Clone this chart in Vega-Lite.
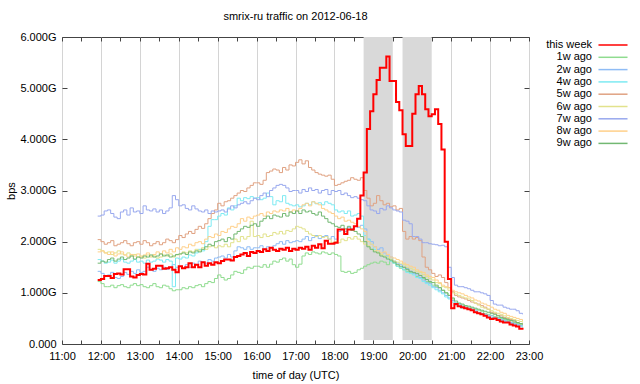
{
  "$schema": "https://vega.github.io/schema/vega-lite/v6.json",
  "width": 467,
  "height": 307,
  "autosize": {"type": "none"},
  "padding": {"left": 62, "top": 37, "right": 111, "bottom": 40},
  "background": "white",
  "title": {"text": "smrix-ru traffic on 2012-06-18", "font": "Liberation Sans", "fontSize": 11, "fontWeight": "normal", "color": "#000", "offset": 9, "anchor": "middle"},
  "config": {
    "view": {"stroke": "#444", "strokeWidth": 1},
    "axis": {"labelFont": "Liberation Sans", "labelFontSize": 11, "labelColor": "#000", "titleFont": "Liberation Sans", "titleFontSize": 11, "titleFontWeight": "normal", "titleColor": "#000", "domain": false, "tickColor": "#444", "gridColor": "#d4d4d4", "gridWidth": 1, "labelOverlap": false, "labelFlush": false},
    "legend": {"labelFont": "Liberation Sans", "labelFontSize": 11, "labelColor": "#000", "padding": 0}
  },
  "datasets": {
    "bands": [{"a": 1125, "b": 1170}, {"a": 1185, "b": 1230}],
    "traffic": [
      {"s": "this week", "m": [715,720,725,730,735,740,745,750,755,760,765,770,775,780,785,790,795,800,805,810,815,820,825,830,835,840,845,850,855,860,865,870,875,880,885,890,895,900,905,910,915,920,925,930,935,940,945,950,955,960,965,970,975,980,985,990,995,1000,1005,1010,1015,1020,1025,1030,1035,1040,1045,1050,1055,1060,1065,1070,1075,1080,1085,1090,1095,1100,1105,1110,1115,1120,1125,1130,1135,1140,1145,1150,1155,1160,1165,1170,1175,1180,1185,1190,1195,1200,1205,1210,1215,1220,1225,1230,1235,1240,1245,1250,1255,1260,1265,1270,1275,1280,1285,1290,1295,1300,1305,1310,1315,1320,1325,1330,1335,1340,1345,1350,1355,1360,1365,1370],
       "v": [1.25,1.27,1.33,1.33,1.29,1.37,1.38,1.36,1.46,1.46,1.32,1.3,1.35,1.37,1.36,1.57,1.45,1.47,1.53,1.53,1.47,1.48,1.5,1.45,1.4,1.52,1.48,1.5,1.58,1.5,1.55,1.5,1.6,1.53,1.58,1.55,1.6,1.58,1.62,1.65,1.65,1.63,1.7,1.72,1.75,1.78,1.72,1.8,1.78,1.82,1.8,1.85,1.82,1.88,1.84,1.82,1.86,1.84,1.88,1.82,1.86,1.84,1.88,1.86,1.9,1.84,1.92,1.88,1.95,1.87,2.02,1.96,1.96,1.98,2.24,2.24,2.15,2.24,2.24,2.3,2.45,2.9,3.35,4.2,4.55,4.88,5.16,5.4,5.4,5.62,5.14,5.14,4.73,4.57,4.1,3.87,3.87,4.5,4.88,5.04,4.88,4.59,4.45,4.49,4.59,4.3,3.8,2.0,1.27,0.7,0.78,0.74,0.72,0.7,0.68,0.66,0.62,0.6,0.58,0.55,0.52,0.49,0.5,0.47,0.44,0.42,0.42,0.38,0.36,0.34,0.3,0.28]},
      {"s": "1w ago", "m": [715,720,725,730,735,740,745,750,755,760,765,770,775,780,785,790,795,800,805,810,815,820,825,830,835,840,845,850,855,860,865,870,875,880,885,890,895,900,905,910,915,920,925,930,935,940,945,950,955,960,965,970,975,980,985,990,995,1000,1005,1010,1015,1020,1025,1030,1035,1040,1045,1050,1055,1060,1065,1070,1075,1080,1085,1090,1095,1100,1105,1110,1115,1120,1125,1130,1135,1140,1145,1150,1155,1160,1165,1170,1175,1180,1185,1190,1195,1200,1205,1210,1215,1220,1225,1230,1235,1240,1245,1250,1255,1260,1265,1270,1275,1280,1285,1290,1295,1300,1305,1310,1315,1320,1325,1330,1335,1340,1345,1350,1355,1360,1365,1370],
       "v": [1.22,1.18,1.12,1.12,1.15,1.1,1.14,1.16,1.12,1.1,1.15,1.18,1.14,1.16,1.12,1.1,1.14,1.18,1.12,1.1,1.15,1.13,1.08,1.04,1.06,1.06,1.1,1.08,1.12,1.1,1.14,1.16,1.12,1.18,1.22,1.2,1.28,1.35,1.3,1.25,1.28,1.35,1.42,1.4,1.38,1.45,1.5,1.48,1.52,1.52,1.5,1.55,1.5,1.56,1.62,1.6,1.65,1.68,1.62,1.66,1.55,1.5,1.56,1.72,1.78,1.75,1.8,1.78,1.76,1.8,1.78,1.75,1.78,1.75,1.72,1.42,1.4,1.42,1.38,1.4,1.45,1.48,1.52,1.55,1.58,1.6,1.58,1.62,1.6,1.55,1.62,1.58,1.52,1.48,1.45,1.42,1.4,1.38,1.32,1.3,1.28,1.22,1.2,1.15,1.12,1.1,1.05,1.0,0.95,0.88,0.8,0.78,0.76,0.74,0.72,0.7,0.68,0.66,0.64,0.6,0.58,0.56,0.54,0.52,0.5,0.48,0.46,0.45,0.42,0.4,0.38,0.36]},
      {"s": "2w ago", "m": [715,720,725,730,735,740,745,750,755,760,765,770,775,780,785,790,795,800,805,810,815,820,825,830,835,840,845,850,855,860,865,870,875,880,885,890,895,900,905,910,915,920,925,930,935,940,945,950,955,960,965,970,975,980,985,990,995,1000,1005,1010,1015,1020,1025,1030,1035,1040,1045,1050,1055,1060,1065,1070,1075,1080,1085,1090,1095,1100,1105,1110,1115,1120,1125,1130,1135,1140,1145,1150,1155,1160,1165,1170,1175,1180,1185,1190,1195,1200,1205,1210,1215,1220,1225,1230,1235,1240,1245,1250,1255,1260,1265,1270,1275,1280,1285,1290,1295,1300,1305,1310,1315,1320,1325,1330,1335,1340,1345,1350,1355,1360,1365,1370],
       "v": [1.42,1.38,1.32,1.35,1.4,1.3,1.28,1.32,1.4,1.36,1.42,1.38,1.45,1.4,1.42,1.5,1.45,1.42,1.48,1.45,1.5,1.46,1.5,1.55,1.5,1.52,1.48,1.55,1.5,1.58,1.55,1.62,1.6,1.58,1.65,1.62,1.68,1.7,1.72,1.68,1.75,1.7,1.82,1.9,1.88,1.85,1.9,1.85,1.88,1.88,1.92,1.86,1.9,1.88,1.92,1.96,2.0,1.95,2.02,1.98,2.0,2.02,2.0,2.05,2.1,2.02,2.08,2.12,2.06,2.1,2.12,2.05,2.1,2.05,2.2,2.25,2.2,2.28,2.25,2.3,2.28,2.32,2.25,2.05,2.0,1.9,1.85,1.88,1.78,1.72,1.7,1.62,1.58,1.55,1.5,1.48,1.42,1.38,1.35,1.3,1.25,1.2,1.18,1.12,1.1,1.05,1.0,0.95,0.9,0.85,0.8,0.78,0.74,0.72,0.7,0.68,0.66,0.62,0.6,0.58,0.56,0.55,0.52,0.5,0.48,0.46,0.44,0.42,0.4,0.38,0.36,0.34]},
      {"s": "4w ago", "m": [715,720,725,730,735,740,745,750,755,760,765,770,775,780,785,790,795,800,805,810,815,820,825,830,835,840,845,850,855,860,865,870,875,880,885,890,895,900,905,910,915,920,925,930,935,940,945,950,955,960,965,970,975,980,985,990,995,1000,1005,1010,1015,1020,1025,1030,1035,1040,1045,1050,1055,1060,1065,1070,1075,1080,1085,1090,1095,1100,1105,1110,1115,1120,1125,1130,1135,1140,1145,1150,1155,1160,1165,1170,1175,1180,1185,1190,1195,1200,1205,1210,1215,1220,1225,1230,1235,1240,1245,1250,1255,1260,1265,1270,1275,1280,1285,1290,1295,1300,1305,1310,1315,1320,1325,1330,1335,1340,1345,1350,1355,1360,1365,1370],
       "v": [1.65,1.62,1.58,1.6,1.64,1.58,1.62,1.66,1.6,1.58,1.62,1.65,1.6,1.62,1.58,1.64,1.6,1.62,1.66,1.64,1.6,1.65,1.62,1.12,1.68,1.66,1.7,1.68,1.74,1.72,1.78,1.85,1.82,2.0,2.3,2.43,2.43,2.5,2.55,2.52,2.66,2.62,2.7,2.85,2.8,2.86,2.84,2.88,2.85,2.86,2.82,2.85,2.95,2.88,2.72,2.8,2.78,2.9,2.75,2.72,2.7,2.72,2.68,2.7,2.75,2.72,2.78,2.74,2.76,2.72,2.78,2.75,2.72,2.62,2.58,2.6,2.55,2.6,2.5,2.52,2.55,2.5,2.12,2.05,1.95,1.85,1.8,1.75,1.72,1.68,1.62,1.58,1.52,1.5,1.45,1.4,1.38,1.35,1.3,1.28,1.22,1.18,1.15,1.1,1.06,1.02,0.98,0.92,0.88,0.82,0.76,0.74,0.7,0.7,0.68,0.66,0.64,0.6,0.58,0.56,0.54,0.52,0.5,0.48,0.46,0.44,0.42,0.4,0.38,0.36,0.34,0.32]},
      {"s": "5w ago", "m": [715,720,725,730,735,740,745,750,755,760,765,770,775,780,785,790,795,800,805,810,815,820,825,830,835,840,845,850,855,860,865,870,875,880,885,890,895,900,905,910,915,920,925,930,935,940,945,950,955,960,965,970,975,980,985,990,995,1000,1005,1010,1015,1020,1025,1030,1035,1040,1045,1050,1055,1060,1065,1070,1075,1080,1085,1090,1095,1100,1105,1110,1115,1120,1125,1130,1135,1140,1145,1150,1155,1160,1165,1170,1175,1180,1185,1190,1195,1200,1205,1210,1215,1220,1225,1230,1235,1240,1245,1250,1255,1260,1265,1270,1275,1280,1285,1290,1295,1300,1305,1310,1315,1320,1325,1330,1335,1340,1345,1350,1355,1360,1365,1370],
       "v": [2.04,2.0,1.95,1.98,2.02,1.92,1.95,1.98,2.02,1.96,1.92,1.98,2.0,1.95,2.02,1.98,1.92,1.96,2.0,1.94,1.98,2.05,2.02,1.98,2.04,2.12,2.08,2.15,2.2,2.16,2.24,2.3,2.26,2.35,2.45,2.55,2.62,2.75,2.7,2.78,2.8,2.85,2.9,2.95,3.0,2.98,3.05,3.1,3.15,3.15,3.12,3.2,3.35,3.38,3.42,3.4,3.35,3.45,3.4,3.5,3.48,3.55,3.6,3.52,3.58,3.45,3.4,3.35,3.32,3.3,3.28,3.3,3.22,3.1,3.12,3.15,3.18,3.2,3.25,3.22,3.2,3.25,3.0,2.85,2.7,2.75,2.9,2.8,2.72,2.75,2.68,2.7,2.62,2.65,2.2,2.05,2.1,2.05,2.08,2.02,1.7,1.5,1.45,1.38,1.32,1.35,1.3,1.2,1.1,1.02,0.95,0.92,0.9,0.88,0.85,0.82,0.8,0.78,0.75,0.72,0.68,0.62,0.6,0.56,0.55,0.52,0.5,0.48,0.45,0.42,0.4,0.38]},
      {"s": "6w ago", "m": [715,720,725,730,735,740,745,750,755,760,765,770,775,780,785,790,795,800,805,810,815,820,825,830,835,840,845,850,855,860,865,870,875,880,885,890,895,900,905,910,915,920,925,930,935,940,945,950,955,960,965,970,975,980,985,990,995,1000,1005,1010,1015,1020,1025,1030,1035,1040,1045,1050,1055,1060,1065,1070,1075,1080,1085,1090,1095,1100,1105,1110,1115,1120,1125,1130,1135,1140,1145,1150,1155,1160,1165,1170,1175,1180,1185,1190,1195,1200,1205,1210,1215,1220,1225,1230,1235,1240,1245,1250,1255,1260,1265,1270,1275,1280,1285,1290,1295,1300,1305,1310,1315,1320,1325,1330,1335,1340,1345,1350,1355,1360,1365,1370],
       "v": [1.85,1.82,1.78,1.8,1.75,1.78,1.82,1.76,1.74,1.78,1.72,1.75,1.7,1.72,1.68,1.74,1.7,1.72,1.68,1.7,1.74,1.72,1.76,1.7,1.74,1.76,1.8,1.78,1.82,1.8,1.85,1.82,1.88,1.85,1.9,1.92,1.88,1.92,1.9,1.95,1.9,1.98,2.05,2.0,2.1,2.05,2.1,2.4,2.1,2.12,2.08,2.15,2.1,2.12,2.18,2.15,2.2,2.15,2.22,2.2,2.25,2.3,2.28,2.25,2.2,2.15,2.12,2.1,2.12,2.08,2.1,2.05,1.98,2.0,1.98,2.05,2.02,2.08,2.05,2.1,2.05,2.0,1.95,1.92,1.85,1.82,1.78,1.75,1.72,1.7,1.66,1.62,1.6,1.58,1.55,1.5,1.48,1.45,1.42,1.4,1.36,1.32,1.28,1.25,1.2,1.18,1.12,1.1,1.05,1.0,0.98,0.95,0.92,0.9,0.88,0.85,0.8,0.76,0.72,0.7,0.68,0.65,0.62,0.6,0.58,0.55,0.52,0.5,0.48,0.46,0.44,0.42]},
      {"s": "7w ago", "m": [715,720,725,730,735,740,745,750,755,760,765,770,775,780,785,790,795,800,805,810,815,820,825,830,835,840,845,850,855,860,865,870,875,880,885,890,895,900,905,910,915,920,925,930,935,940,945,950,955,960,965,970,975,980,985,990,995,1000,1005,1010,1015,1020,1025,1030,1035,1040,1045,1050,1055,1060,1065,1070,1075,1080,1085,1090,1095,1100,1105,1110,1115,1120,1125,1130,1135,1140,1145,1150,1155,1160,1165,1170,1175,1180,1185,1190,1195,1200,1205,1210,1215,1220,1225,1230,1235,1240,1245,1250,1255,1260,1265,1270,1275,1280,1285,1290,1295,1300,1305,1310,1315,1320,1325,1330,1335,1340,1345,1350,1355,1360,1365,1370],
       "v": [2.5,2.52,2.6,2.62,2.55,2.48,2.45,2.58,2.62,2.52,2.66,2.58,2.6,2.55,2.7,2.62,2.6,2.64,2.58,2.62,2.55,2.6,2.66,2.9,2.82,2.7,2.72,2.65,2.62,2.7,2.64,2.6,2.58,2.62,2.55,2.6,2.58,2.6,2.62,2.58,2.64,2.7,2.66,2.72,2.75,2.78,2.74,2.8,2.85,2.82,2.9,2.95,2.88,3.0,3.05,3.1,3.12,3.1,3.05,2.98,3.0,3.0,2.95,3.02,2.98,3.05,3.0,3.02,2.95,3.0,3.02,2.92,3.0,2.98,3.0,2.92,2.95,2.9,2.86,2.88,2.85,2.82,2.8,2.7,2.62,2.6,2.55,2.65,2.62,2.7,2.66,2.62,2.6,2.58,2.42,2.4,2.35,2.1,2.1,2.05,1.98,1.98,1.96,1.95,1.94,1.92,1.93,1.9,1.5,1.3,1.15,1.12,1.12,1.1,1.08,1.05,1.02,1.02,1.0,0.98,0.95,0.85,0.78,0.76,0.76,0.72,0.7,0.68,0.68,0.65,0.6,0.58]},
      {"s": "8w ago", "m": [715,720,725,730,735,740,745,750,755,760,765,770,775,780,785,790,795,800,805,810,815,820,825,830,835,840,845,850,855,860,865,870,875,880,885,890,895,900,905,910,915,920,925,930,935,940,945,950,955,960,965,970,975,980,985,990,995,1000,1005,1010,1015,1020,1025,1030,1035,1040,1045,1050,1055,1060,1065,1070,1075,1080,1085,1090,1095,1100,1105,1110,1115,1120,1125,1130,1135,1140,1145,1150,1155,1160,1165,1170,1175,1180,1185,1190,1195,1200,1205,1210,1215,1220,1225,1230,1235,1240,1245,1250,1255,1260,1265,1270,1275,1280,1285,1290,1295,1300,1305,1310,1315,1320,1325,1330,1335,1340,1345,1350,1355,1360,1365,1370],
       "v": [1.8,1.82,1.78,1.75,1.8,1.72,1.76,1.8,1.74,1.7,1.75,1.72,1.76,1.7,1.74,1.78,1.72,1.75,1.8,1.76,1.82,1.78,1.85,1.8,1.88,1.85,1.9,1.88,1.95,1.92,1.98,2.0,1.96,2.05,2.1,2.08,2.15,2.12,2.2,2.18,2.25,2.3,2.28,2.35,2.45,2.4,2.48,2.45,2.5,2.52,2.55,2.5,2.58,2.55,2.6,2.58,2.62,2.6,2.65,2.58,2.62,2.6,2.65,2.72,2.75,2.7,2.78,2.75,2.72,2.65,2.62,2.58,2.55,2.5,2.45,2.48,2.4,2.42,2.38,2.35,2.3,2.25,2.2,2.0,1.95,1.9,1.82,1.78,1.8,1.75,1.7,1.68,1.65,1.62,1.58,1.55,1.52,1.5,1.45,1.42,1.4,1.35,1.32,1.3,1.25,1.2,1.15,1.12,1.1,1.05,1.02,1.0,0.98,0.95,0.92,0.9,0.86,0.84,0.8,0.78,0.75,0.72,0.68,0.66,0.62,0.6,0.56,0.54,0.52,0.5,0.48,0.45]},
      {"s": "9w ago", "m": [715,720,725,730,735,740,745,750,755,760,765,770,775,780,785,790,795,800,805,810,815,820,825,830,835,840,845,850,855,860,865,870,875,880,885,890,895,900,905,910,915,920,925,930,935,940,945,950,955,960,965,970,975,980,985,990,995,1000,1005,1010,1015,1020,1025,1030,1035,1040,1045,1050,1055,1060,1065,1070,1075,1080,1085,1090,1095,1100,1105,1110,1115,1120,1125,1130,1135,1140,1145,1150,1155,1160,1165,1170,1175,1180,1185,1190,1195,1200,1205,1210,1215,1220,1225,1230,1235,1240,1245,1250,1255,1260,1265,1270,1275,1280,1285,1290,1295,1300,1305,1310,1315,1320,1325,1330,1335,1340,1345,1350,1355,1360,1365,1370],
       "v": [1.58,1.62,1.6,1.65,1.68,1.62,1.66,1.7,1.65,1.68,1.72,1.66,1.7,1.68,1.72,1.7,1.74,1.7,1.72,1.76,1.72,1.74,1.7,1.72,1.75,1.76,1.78,1.75,1.8,1.78,1.82,1.8,1.85,1.9,1.95,1.92,2.0,2.02,2.05,2.0,2.08,2.05,2.15,2.2,2.25,2.3,2.28,2.32,2.35,2.3,2.4,2.45,2.5,2.45,2.52,2.5,2.48,2.55,2.5,2.58,2.55,2.6,2.55,2.62,2.58,2.6,2.55,2.52,2.58,2.5,2.45,2.38,2.35,2.3,2.28,2.32,2.25,2.3,2.22,2.2,2.15,2.1,2.0,1.9,1.85,1.8,1.78,1.72,1.7,1.66,1.64,1.6,1.55,1.52,1.5,1.46,1.42,1.4,1.38,1.34,1.3,1.26,1.22,1.2,1.15,1.1,1.05,1.0,0.95,0.9,0.84,0.8,0.78,0.75,0.74,0.72,0.7,0.68,0.66,0.64,0.62,0.6,0.58,0.55,0.52,0.5,0.48,0.46,0.45,0.42,0.4,0.38]}
    ]
  },
  "layer": [
    {
      "data": {"name": "bands"},
      "mark": {"type": "rect", "color": "#d9d9d9"},
      "encoding": {
        "x": {"field": "a", "type": "quantitative", "scale": {"domain": [660, 1380], "nice": false, "zero": false},
          "axis": {"orient": "bottom", "title": "time of day (UTC)", "values": [660,690,720,750,780,810,840,870,900,930,960,990,1020,1050,1080,1110,1140,1170,1200,1230,1260,1290,1320,1350,1380],
            "labelExpr": "datum.value % 60 == 0 ? floor(datum.value / 60) + ':00' : ''",
            "gridOpacity": {"condition": {"test": "datum.value % 60 == 0", "value": 1}, "value": 0},
            "tickSize": -4, "labelPadding": 10, "titlePadding": 8}},
        "x2": {"field": "b"},
        "y": {"datum": 0.08, "type": "quantitative", "scale": {"domain": [0, 6], "nice": false, "zero": false},
          "axis": {"orient": "left", "title": "bps", "values": [0,1,2,3,4,5,6],
            "labelExpr": "datum.value == 0 ? '0.000' : format(datum.value, '.3f') + 'G'",
            "tickSize": -5, "labelPadding": 11, "titlePadding": 3}},
        "y2": {"datum": 6}
      }
    },
    {
      "data": {"name": "traffic"},
      "transform": [{"flatten": ["m", "v"]}, {"filter": "datum.s != 'this week'"}],
      "mark": {"type": "line", "interpolate": "step-after", "strokeWidth": 1},
      "encoding": {
        "x": {"field": "m", "type": "quantitative", "axis": {"orient": "top", "labels": false, "grid": false, "title": null, "tickSize": -4, "values": [660,690,720,750,780,810,840,870,900,930,960,990,1020,1050,1080,1110,1140,1170,1200,1230,1260,1290,1320,1350,1380]}},
        "y": {"field": "v", "type": "quantitative", "axis": {"orient": "right", "labels": false, "grid": false, "title": null, "tickSize": -5, "values": [0,1,2,3,4,5,6]}},
        "color": {"field": "s", "type": "nominal",
          "scale": {"domain": ["this week","1w ago","2w ago","4w ago","5w ago","6w ago","7w ago","8w ago","9w ago"],
                    "range": ["#ff0000","#8fdc8f","#8fbcf5","#7eeaf2","#e0a282","#e2e28c","#98a8ee","#ffd08a","#72b872"]},
          "legend": {"orient": "none", "legendX": 544, "legendY": 1, "title": null, "symbolType": "M-2.5,0H2.5", "symbolSize": 135, "symbolStrokeWidth": 1.5, "labelAlign": "right", "labelOffset": -28, "rowPadding": 0.3}}
      }
    },
    {
      "data": {"name": "traffic"},
      "transform": [{"flatten": ["m", "v"]}, {"filter": "datum.s == 'this week'"}],
      "mark": {"type": "line", "interpolate": "step-after", "strokeWidth": 2},
      "encoding": {
        "x": {"field": "m", "type": "quantitative", "axis": null},
        "y": {"field": "v", "type": "quantitative", "axis": null},
        "color": {"field": "s", "type": "nominal"}
      }
    }
  ],
  "resolve": {"axis": {"x": "independent", "y": "independent"}}
}
